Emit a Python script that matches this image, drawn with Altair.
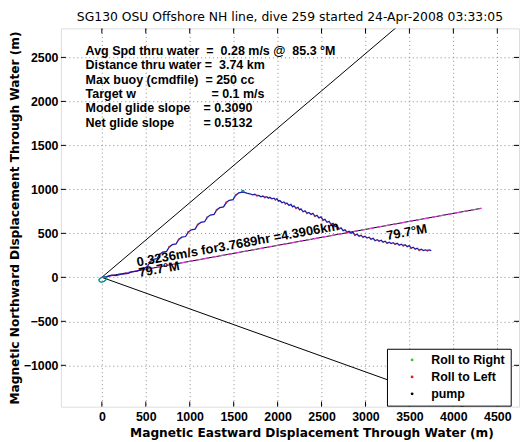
import altair as alt
import pandas as pd

TITLE = "SG130 OSU Offshore NH line, dive 259 started 24-Apr-2008 03:33:05"
X_TITLE = "Magnetic Eastward Displacement Through Water (m)"
Y_TITLE = "Magnetic Northward Displacement Through Water (m)"

x_ticks = [0, 500, 1000, 1500, 2000, 2500, 3000, 3500, 4000, 4500]
y_ticks = [-1000, -500, 0, 500, 1000, 1500, 2000, 2500]

# start-of-dive loop (cyan), metres east / north
loop_e = [0, -20, -34, -28, -5, 25, 50, 57, 40, 10]
loop_n = [0, -12, -30, -48, -55, -45, -25, -5, 8, 5]

# glider track through water (blue)
track_e = [10, 60, 110, 160, 236, 300, 339, 400, 430, 480, 521,
           551, 586, 629, 659, 694, 737, 767, 802, 845, 875, 910, 953,
           983, 1018, 1061, 1091, 1126, 1169, 1199, 1234, 1277, 1307, 1342,
           1385, 1415, 1450, 1493, 1523, 1558, 1601, 1620,
           1650, 1684, 1715, 1741, 1765, 1787, 1810, 1832, 1855, 1878, 1895,
           1912, 1935, 1958, 1975, 1992, 2010, 2026, 2050, 2072, 2090, 2106,
           2130, 2152, 2170, 2186, 2210, 2232, 2250, 2266, 2290, 2311, 2335,
           2357, 2380, 2402, 2425, 2448, 2470, 2494, 2517, 2539, 2562, 2585,
           2608, 2631, 2654, 2676, 2700, 2722, 2745, 2767, 2790, 2813, 2836,
           2859, 2880, 2904, 2927, 2950, 2973, 2996, 3018, 3041, 3064, 3087,
           3110, 3133, 3155, 3178, 3200, 3224, 3247, 3270, 3292, 3315, 3338,
           3361, 3384, 3407, 3430, 3452, 3475, 3498, 3520, 3543, 3566, 3589,
           3612, 3635, 3658, 3680, 3705, 3726, 3749]
track_n = [5, 8, 25, 20, 38, 45, 62, 70, 85, 100, 128,
           178, 204, 212, 262, 288, 296, 346, 372, 380, 430, 456, 464,
           514, 540, 548, 598, 624, 632, 682, 708, 716, 766, 792,
           800, 850, 876, 884, 934, 960, 968, 966,
           958, 950, 938, 944, 928, 930, 916, 924, 908, 916, 900,
           909, 892, 900, 882, 894, 866, 874, 848, 857, 836, 845,
           818, 829, 802, 812, 785, 795, 768, 778, 745, 755, 728,
           738, 716, 727, 694, 704, 676, 687, 650, 659, 626, 637,
           603, 614, 576, 586, 552, 563, 530, 540, 513, 524, 501,
           512, 480, 490, 468, 478, 457, 467, 446, 456, 433, 444,
           416, 427, 412, 422, 400, 411, 389, 399, 384, 394, 377,
           388, 366, 377, 360, 371, 349, 360, 332, 343, 320, 331,
           309, 320, 304, 312, 303, 311, 303]

# apogee hook (cyan)
hook_e = [1601, 1592, 1596, 1610, 1618, 1620]
hook_n = [968, 975, 985, 986, 975, 965]

# roll-to-left samples along the track
roll_left_e = [551, 659, 767, 875, 983, 1091, 1199, 1307, 1415, 1523,
               1765, 1855, 1975, 2090, 2210, 2335, 2425, 2517, 2608, 2700,
               2790, 2880, 2973, 3064, 3155, 3247, 3338, 3430, 3520, 3612, 3705]
roll_left_n = [178, 262, 346, 430, 514, 598, 682, 766, 850, 934,
               928, 908, 882, 836, 785, 728, 694, 650, 603, 552,
               513, 480, 457, 433, 412, 389, 377, 360, 332, 309, 303]

# heading rays from the dive start: 49.7, 79.7 and 109.7 deg M, 4.3906 km long
ray_heading = ["49.7", "79.7", "109.7"]
ray_end_e = [3350, 4320, 4134]
ray_end_n = [2840, 785, -1481]

legend_labels = ["Roll to Right", "Roll to Left", "pump"]
legend_colors = ["#2ecc2e", "#dd2020", "#000000"]

stats_text = ["Avg Spd thru water \u00a0=\u00a0 0.28 m/s @ \u00a085.3 \u00b0M",
              "Distance thru water = \u00a03.74 km",
              "Max buoy (cmdfile) \u00a0= 250 cc",
              "Target w", "= 0.1 m/s",
              "Model glide slope", "= 0.3090",
              "Net glide slope", "= 0.5132"]
speed_text = "0.3236m/s for3.7689hr =4.3906km"
heading_text = "79.7\u00b0M"

FONT = "Liberation Sans"
TFONT = "DejaVu Sans"

# ---------------- tables -----------------
loop_df = pd.DataFrame({"e": loop_e, "n": loop_n, "i": range(len(loop_e))})
track_df = pd.DataFrame({"e": track_e, "n": track_n, "i": range(len(track_e))})
hook_df = pd.DataFrame({"e": hook_e, "n": hook_n, "i": range(len(hook_e))})
dots_df = pd.DataFrame({"e": roll_left_e, "n": roll_left_n, "kind": "Roll to Left"})

ray_rows = []
for h, ee, nn in zip(ray_heading, ray_end_e, ray_end_n):
    ray_rows.append({"ray": h, "e": 0, "n": 0, "i": 0})
    ray_rows.append({"ray": h, "e": ee, "n": nn, "i": 1})
rays_df = pd.DataFrame(ray_rows)
mid_df = rays_df[rays_df["ray"] == "79.7"]

# annotation anchors (data coordinates)
stats_e = [-185, -185, -185, -185, 1247, -185, 1156, -185, 1156]
stats_n = [2575, 2411, 2248, 2084, 2084, 1920, 1920, 1757, 1757]
stats_df = pd.DataFrame({"t": stats_text, "e": stats_e, "n": stats_n})
rot_df = pd.DataFrame({"t": [speed_text, heading_text, heading_text],
                       "e": [406, 428, 3247], "n": [123, 3, 424]})

xt_df = pd.DataFrame({"v": x_ticks})
yt_df = pd.DataFrame({"v": y_ticks})

W, H = 459, 379
xscale = alt.Scale(domain=[-466, 4747], nice=False, zero=False)
yscale = alt.Scale(domain=[-1470, 2830], nice=False, zero=False)

xaxis = alt.Axis(values=x_ticks, format="d", grid=True, gridColor="#8a8a8a",
                 gridDash=[1, 3], gridWidth=1, ticks=False, tickSize=0, domain=False,
                 labelFont=FONT, labelFontSize=12.4, labelFontWeight="bold",
                 labelColor="black", labelPadding=4, labelFlush=False,
                 title=X_TITLE, titleFont=TFONT, titleFontSize=12.2,
                 titleFontWeight="bold", titleColor="black", titlePadding=4,
                 titleX=251)
yaxis = alt.Axis(values=y_ticks, format="d", grid=True, gridColor="#8a8a8a",
                 gridDash=[1, 3], gridWidth=1, ticks=False, tickSize=0, domain=False,
                 labelFont=FONT, labelFontSize=12.4, labelFontWeight="bold",
                 labelColor="black", labelPadding=3, labelFlush=False,
                 title=Y_TITLE, titleFont=TFONT, titleFontSize=12.2,
                 titleFontWeight="bold", titleColor="black", titlePadding=1.5)


def X(f):
    return alt.X(f, type="quantitative", scale=xscale, axis=xaxis)


def Y(f):
    return alt.Y(f, type="quantitative", scale=yscale, axis=yaxis)


rays = alt.Chart(rays_df).mark_line(color="black", strokeWidth=1, clip=True).encode(
    x=X("e"), y=Y("n"), detail="ray:N", order="i:Q")
mid_pink = alt.Chart(mid_df).mark_line(color="#e040e0", strokeWidth=1.3,
                                       strokeDash=[5, 3], clip=True).encode(
    x=X("e"), y=Y("n"), order="i:Q")
track = alt.Chart(track_df).mark_line(color="#1c1ca8", strokeWidth=1.3, clip=True).encode(
    x=X("e"), y=Y("n"), order="i:Q")
loop = alt.Chart(loop_df).mark_line(color="#0a8f8f", strokeWidth=1.4, clip=True).encode(
    x=X("e"), y=Y("n"), order="i:Q")
hook = alt.Chart(hook_df).mark_line(color="#0a8f8f", strokeWidth=1.4, clip=True).encode(
    x=X("e"), y=Y("n"), order="i:Q")
dots = alt.Chart(dots_df).mark_circle(size=5, opacity=0.75).encode(
    x=X("e"), y=Y("n"),
    color=alt.Color("kind:N",
                    scale=alt.Scale(domain=legend_labels, range=legend_colors),
                    legend=alt.Legend(title=None, orient="none", direction="vertical",
                                      legendX=326.7, legendY=321,
                                      fillColor="white", strokeColor="black",
                                      padding=5, cornerRadius=0,
                                      symbolType="circle", symbolSize=8,
                                      symbolStrokeWidth=0, symbolOffset=14,
                                      symbolOpacity=1,
                                      labelFont=FONT, labelFontSize=12.4,
                                      labelFontWeight="bold", labelColor="black",
                                      labelOffset=13, rowPadding=4)))
stats = alt.Chart(stats_df).mark_text(font=FONT, fontSize=12.5, fontWeight="bold",
                                      align="left", baseline="middle",
                                      color="black").encode(
    x=X("e"), y=Y("n"), text="t:N")
rot = alt.Chart(rot_df).mark_text(font=FONT, fontSize=13, fontWeight="bold",
                                  align="left", baseline="alphabetic", angle=349.7,
                                  color="black").encode(
    x=X("e"), y=Y("n"), text="t:N")

xt_bot = alt.Chart(xt_df).mark_rule(color="black", strokeWidth=1).encode(
    x=X("v"), y=alt.value(H), y2=alt.value(H - 5))
xt_top = alt.Chart(xt_df).mark_rule(color="black", strokeWidth=1).encode(
    x=X("v"), y=alt.value(0), y2=alt.value(5))
yt_left = alt.Chart(yt_df).mark_rule(color="black", strokeWidth=1).encode(
    y=Y("v"), x=alt.value(0), x2=alt.value(5))
yt_right = alt.Chart(yt_df).mark_rule(color="black", strokeWidth=1).encode(
    y=Y("v"), x=alt.value(W), x2=alt.value(W - 5))

chart = alt.layer(
    rays, mid_pink, track, loop, hook, dots, stats, rot,
    xt_bot, xt_top, yt_left, yt_right
).properties(
    width=W, height=H,
    autosize=alt.AutoSizeParams(type="none"),
    padding={"left": 53, "top": 20, "right": 1, "bottom": 34},
    title=alt.Title(TITLE, font=TFONT, fontSize=12.4, fontWeight="normal",
                    color="black", anchor="middle", offset=4),
).configure_view(
    stroke="black", strokeWidth=1
).configure(background="white")

chart.save("out.html", embed_options={"renderer": "svg", "actions": False})
